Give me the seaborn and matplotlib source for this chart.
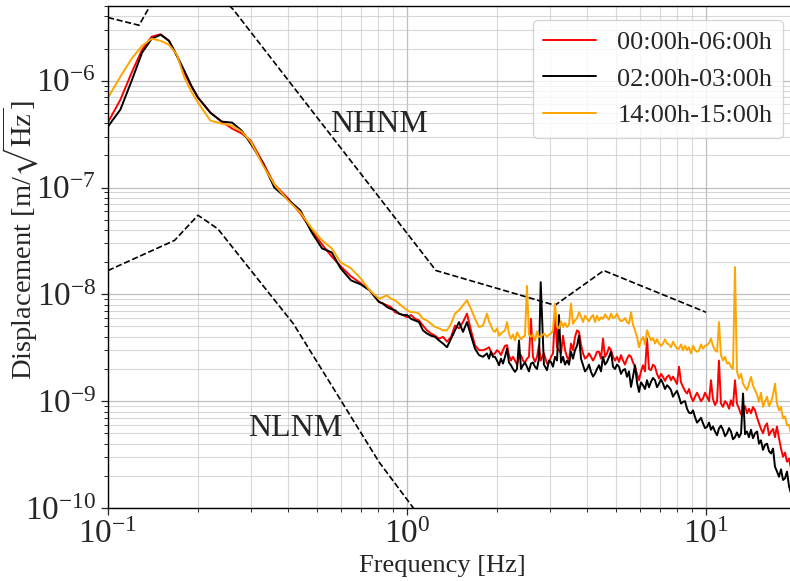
import matplotlib
matplotlib.use("Agg")
import matplotlib.pyplot as plt
from matplotlib.lines import Line2D
import pandas as pd
import seaborn as sns

# Spectral frequencies (Hz), main grid
freq_hz = [
    0.10, 0.11, 0.12, 0.13, 0.14, 0.15, 0.16, 0.17, 0.18, 0.19, 0.20, 0.22,
    0.24, 0.26, 0.28, 0.30, 0.33, 0.36, 0.40, 0.44, 0.48, 0.52, 0.56, 0.60,
    0.65, 0.70, 0.75,
    0.806, 0.831, 0.857, 0.884, 0.912, 0.940, 0.970, 1.000, 1.031, 1.064,
    1.097, 1.131, 1.166, 1.203, 1.241, 1.280, 1.320, 1.361, 1.404, 1.447,
    1.493, 1.539, 1.587, 1.637, 1.688, 1.741, 1.795, 1.851, 1.909, 1.969,
    2.031, 2.094, 2.160, 2.227, 2.297, 2.369, 2.443, 2.519, 2.598, 2.680,
    2.763, 2.800, 2.939, 3.031, 3.126, 3.224, 3.325, 3.429, 3.536, 3.647,
    3.761, 3.879, 4.000, 4.125, 4.254, 4.387, 4.524, 4.666, 4.812, 4.962,
    5.118, 5.278, 5.443, 5.613, 5.789, 5.970, 6.157, 6.349, 6.548, 6.753,
    6.964, 7.182, 7.407, 7.638, 7.877, 8.124, 8.378, 8.640, 8.911, 9.189,
    9.477, 9.772, 10.08, 10.39, 10.72, 11.05, 11.40, 11.76, 12.12, 12.50,
    12.90, 13.30, 13.71, 14.14, 14.59, 15.04, 15.51, 16.00, 16.50, 17.01,
    17.55, 18.10, 18.66, 19.24,
]

# Displacement amplitude spectra (m/sqrt(Hz)) on the main grid
disp_00_06 = [
    4.08e-7, 6.64e-7, 1.19e-6, 1.95e-6, 2.58e-6, 2.72e-6, 2.36e-6, 1.71e-6,
    1.19e-6, 8.79e-7, 6.94e-7, 5.02e-7, 4.14e-7, 3.56e-7, 3.20e-7, 2.75e-7,
    1.71e-7, 1.07e-7, 7.89e-8, 5.71e-8, 3.96e-8, 2.93e-8, 2.26e-8, 1.83e-8,
    1.47e-8, 1.27e-8, 1.09e-8,
    8.5e-9, 8.2e-9, 7.9e-9, 7.6e-9, 6.8e-9, 6.6e-9, 6.4e-9, 6.1e-9, 6.4e-9,
    5.9e-9, 5.7e-9, 5.1e-9, 4.6e-9, 4.3e-9, 4.1e-9, 3.85e-9, 4.0e-9, 3.6e-9,
    4.0e-9, 5.1e-9, 4.8e-9, 5.5e-9, 6.6e-9, 4.6e-9, 3.34e-9, 3.0e-9, 3.0e-9,
    3.1e-9, 2.9e-9, 2.8e-9, 2.9e-9, 3.0e-9, 3.34e-9, 2.4e-9, 2.4e-9, 2.6e-9,
    2.4e-9, 2.5e-9, 5.9e-9, 2.33e-9, 3.34e-9, 2.4e-9, 2.25e-9, 2.6e-9,
    6.6e-9, 3.0e-9, 4.1e-9, 2.6e-9, 3.46e-9, 4.0e-9, 4.45e-9, 2.8e-9, 2.6e-9,
    2.6e-9, 2.6e-9, 2.9e-9, 3.85e-9, 2.8e-9, 3.0e-9, 2.4e-9, 2.33e-9, 2.4e-9,
    2.5e-9, 2.6e-9, 2.1e-9, 1.57e-9, 2.17e-9, 3.85e-9, 1.95e-9, 2.1e-9,
    1.63e-9, 1.69e-9, 1.69e-9, 1.57e-9, 1.57e-9, 2.1e-9, 1.36e-9, 1.18e-9,
    1.10e-9, 1.10e-9, 1.10e-9, 1.06e-9, 1.10e-9, 1.57e-9, 9.2e-10, 2.4e-9,
    8.85e-10, 9.5e-10, 1.02e-9, 1.57e-9, 8.5e-10, 8.2e-10, 7.7e-10, 7.7e-10,
    8.2e-10, 6.2e-10, 5.0e-10, 6.2e-10, 5.2e-10, 4.6e-10, 4.48e-10, 3.02e-10,
    2.71e-10, 2.35e-10,
]

disp_02_03 = [
    3.72e-7, 5.36e-7, 1.0e-6, 1.83e-6, 2.47e-6, 2.69e-6, 2.36e-6, 1.71e-6,
    1.24e-6, 8.98e-7, 6.94e-7, 5.02e-7, 4.14e-7, 4.05e-7, 3.41e-7, 2.58e-7,
    1.68e-7, 1.0e-7, 7.72e-8, 6.1e-8, 3.80e-8, 2.69e-8, 2.47e-8, 1.75e-8,
    1.35e-8, 1.24e-8, 1.09e-8,
    8.5e-9, 8.2e-9, 7.6e-9, 7.3e-9, 7.1e-9, 6.6e-9, 6.4e-9, 6.4e-9, 5.9e-9,
    5.7e-9, 5.5e-9, 4.6e-9, 4.3e-9, 4.1e-9, 4.0e-9, 3.7e-9, 3.46e-9, 3.2e-9,
    3.85e-9, 4.6e-9, 5.5e-9, 4.45e-9, 5.5e-9, 4.1e-9, 3.1e-9, 2.7e-9, 2.6e-9,
    2.8e-9, 2.9e-9, 2.6e-9, 2.17e-9, 2.25e-9, 3.1e-9, 2.17e-9, 1.88e-9,
    3.7e-9, 2.17e-9, 2.1e-9, 2.25e-9, 2.1e-9, 2.5e-9, 1.3e-8, 1.95e-9,
    2.33e-9, 2.6e-9, 6.4e-9, 2.6e-9, 2.4e-9, 2.9e-9, 3.0e-9, 4.1e-9, 2.17e-9,
    2.0e-9, 1.88e-9, 1.81e-9, 2.17e-9, 2.6e-9, 2.33e-9, 2.9e-9, 2.0e-9,
    2.1e-9, 1.95e-9, 1.69e-9, 1.36e-9, 2.17e-9, 1.22e-9, 1.41e-9, 1.57e-9,
    1.52e-9, 1.57e-9, 1.46e-9, 1.46e-9, 1.41e-9, 1.27e-9, 1.18e-9, 1.10e-9,
    9.86e-10, 8.5e-10, 7.7e-10, 7.1e-10, 6.6e-10, 6.2e-10, 5.75e-10, 5.4e-10,
    5.2e-10, 5.55e-10, 5.4e-10, 5.0e-10, 5.2e-10, 4.6e-10, 4.6e-10, 1.18e-9,
    5.2e-10, 5.4e-10, 5.0e-10, 4.0e-10, 3.5e-10, 4.0e-10, 3.24e-10, 2.43e-10,
    1.96e-10, 1.83e-10, 2.19e-10, 1.37e-10,
]

disp_14_15 = [
    6.94e-7, 1.09e-6, 1.61e-6, 2.12e-6, 2.47e-6, 2.36e-6, 2.17e-6, 1.75e-6,
    1.07e-6, 7.89e-7, 6.23e-7, 4.23e-7, 3.96e-7, 3.80e-7, 3.34e-7, 2.69e-7,
    1.61e-7, 1.07e-7, 7.56e-8, 5.84e-8, 4.14e-8, 3.20e-8, 2.69e-8, 1.99e-8,
    1.75e-8, 1.41e-8, 1.09e-8,
    9.1e-9, 9.4e-9, 9.8e-9, 9.1e-9, 8.8e-9, 8.2e-9, 7.6e-9, 7.1e-9, 6.8e-9,
    6.8e-9, 6.6e-9, 5.9e-9, 5.7e-9, 5.3e-9, 4.95e-9, 4.8e-9, 4.6e-9, 4.6e-9,
    5.3e-9, 6.6e-9, 7.1e-9, 7.9e-9, 8.8e-9, 7.3e-9, 5.9e-9, 4.95e-9, 5.1e-9,
    6.6e-9, 5.1e-9, 4.45e-9, 4.1e-9, 4.45e-9, 5.5e-9, 3.85e-9, 3.7e-9, 4.1e-9,
    4.0e-9, 1.2e-8, 4.0e-9, 3.7e-9, 4.0e-9, 4.0e-9, 4.0e-9, 4.3e-9, 8.2e-9,
    4.8e-9, 4.95e-9, 4.95e-9, 8.2e-9, 5.7e-9, 6.8e-9, 5.5e-9, 5.9e-9, 6.1e-9,
    5.5e-9, 5.7e-9, 5.9e-9, 6.1e-9, 6.6e-9, 6.1e-9, 5.9e-9, 5.7e-9, 5.5e-9,
    6.8e-9, 4.6e-9, 3.2e-9, 4.0e-9, 4.6e-9, 3.7e-9, 3.46e-9, 3.46e-9,
    3.46e-9, 3.46e-9, 3.2e-9, 3.34e-9, 3.1e-9, 3.0e-9, 3.0e-9, 2.8e-9, 3.0e-9,
    3.0e-9, 3.1e-9, 3.34e-9, 3.85e-9, 3.0e-9, 5.5e-9, 2.4e-9, 2.25e-9, 2.1e-9,
    1.8e-8, 1.63e-9, 1.46e-9, 1.27e-9, 1.69e-9, 1.27e-9, 9.86e-10, 8.85e-10,
    1.10e-9, 9.86e-10, 1.46e-9, 8.2e-10, 6.9e-10, 5.97e-10, 5.0e-10,
]

# Extra in-between frequencies (Hz) for the noisy part of the band
freq_hz_fine = [
    1.880, 1.939, 2.000, 2.062, 2.127, 2.193, 2.262, 2.333, 2.406, 2.481,
    2.558, 2.638, 2.722,
    2.870, 2.985, 3.078, 3.175, 3.274, 3.377, 3.482, 3.591, 3.704, 3.819,
    3.939, 4.062, 4.189, 4.320, 4.455, 4.594, 4.738, 4.887, 5.039, 5.197,
    5.360, 5.527, 5.700, 5.879, 6.063, 6.252, 6.447, 6.650, 6.858, 7.072,
    7.293, 7.522, 7.756, 7.999, 8.250, 8.508, 8.774, 9.049, 9.332, 9.624,
    9.924, 10.24, 10.55, 10.89, 11.22, 11.58, 11.94, 12.31, 12.69, 13.10,
    13.51, 13.92, 14.36, 14.82, 15.27, 15.75, 16.25, 16.76, 17.27, 17.82,
    18.38, 18.95,
]

disp_00_06_fine = [
    3.2e-9, 2.7e-9, 3.0e-9, 2.7e-9, 3.3e-9, 2.7e-9, 2.6e-9, 2.2e-9, 2.7e-9, 2.3e-9,
    2.6e-9, 2.6e-9, 2.6e-9,
    2.8e-9, 2.3e-9, 2.8e-9, 3.2e-9, 2.8e-9, 3.0e-9, 2.4e-9, 3.0e-9, 4.6e-9, 3.4e-9,
    2.5e-9, 2.8e-9, 2.4e-9, 2.9e-9, 2.5e-9, 2.6e-9, 3.2e-9, 2.6e-9, 2.6e-9, 2.7e-9,
    2.2e-9, 2.7e-9, 2.3e-9, 1.8e-9, 1.9e-9, 1.9e-9, 2.0e-9, 2.2e-9, 1.8e-9, 1.8e-9,
    1.55e-9, 1.75e-9, 1.7e-9, 1.45e-9, 1.5e-9, 1.25e-9, 1.3e-9, 1.0e-9, 1.2e-9, 1.0e-9,
    1.2e-9, 1.0e-9, 1.05e-9, 1.0e-9, 9.5e-10, 1.0e-9, 8.5e-10, 9.0e-10, 9.5e-10, 7.5e-10,
    9.0e-10, 8.5e-10, 8.8e-10, 7.0e-10, 5.5e-10, 5.8e-10, 4.8e-10, 5.5e-10, 5.8e-10, 3.6e-10,
    3.3e-10, 2.9e-10,
]

disp_02_03_fine = [
    2.5e-9, 2.6e-9, 2.4e-9, 2.5e-9, 2.6e-9, 2.3e-9, 2.0e-9, 2.0e-9, 2.0e-9, 2.3e-9,
    1.9e-9, 2.3e-9, 2.0e-9,
    2.2e-9, 2.4e-9, 2.1e-9, 2.4e-9, 2.3e-9, 2.2e-9, 2.2e-9, 2.5e-9, 3.3e-9, 2.5e-9,
    1.9e-9, 2.2e-9, 1.7e-9, 2.0e-9, 1.9e-9, 2.2e-9, 2.6e-9, 2.1e-9, 2.2e-9, 1.8e-9,
    2.0e-9, 1.9e-9, 1.7e-9, 1.5e-9, 1.5e-9, 1.3e-9, 1.35e-9, 1.65e-9, 1.35e-9, 1.6e-9,
    1.3e-9, 1.35e-9, 1.1e-9, 1.25e-9, 9.5e-10, 1.0e-9, 7.8e-10, 8.2e-10, 6.3e-10, 7.0e-10,
    5.6e-10, 6.3e-10, 5.8e-10, 4.8e-10, 5.9e-10, 4.7e-10, 5.6e-10, 4.4e-10, 5.1e-10, 5.0e-10,
    4.9e-10, 4.6e-10, 4.5e-10, 5.2e-10, 4.3e-10, 3.9e-10, 3.4e-10, 3.6e-10, 2.2e-10, 2.3e-10,
    1.9e-10, 1.6e-10,
]

disp_14_15_fine = [
    5.6e-9, 4.6e-9, 4.8e-9, 4.3e-9, 4.6e-9, 4.3e-9, 4.2e-9, 4.4e-9, 3.8e-9, 4.1e-9,
    4.2e-9, 4.2e-9, 4.5e-9,
    4.3e-9, 4.2e-9, 4.6e-9, 5.0e-9, 5.6e-9, 5.4e-9, 5.2e-9, 5.3e-9, 6.0e-9, 6.2e-9,
    6.3e-9, 5.6e-9, 6.4e-9, 6.3e-9, 6.1e-9, 6.5e-9, 5.8e-9, 6.0e-9, 6.6e-9, 5.6e-9,
    6.0e-9, 5.3e-9, 5.2e-9, 4.0e-9, 3.7e-9, 3.4e-9, 4.1e-9, 3.9e-9, 3.8e-9, 3.3e-9,
    3.8e-9, 3.4e-9, 3.6e-9, 3.1e-9, 3.4e-9, 3.3e-9, 3.2e-9, 3.3e-9, 2.9e-9, 3.4e-9,
    3.3e-9, 3.5e-9, 3.3e-9, 2.9e-9, 2.7e-9, 2.6e-9, 2.3e-9, 2.0e-9, 1.9e-9, 1.8e-9,
    1.35e-9, 1.45e-9, 1.4e-9, 1.15e-9, 1.2e-9, 1.0e-9, 9.0e-10, 1.15e-9, 9.5e-10, 8.8e-10,
    7.2e-10, 6.0e-10,
]

series_labels = ["00:00h-06:00h", "02:00h-03:00h", "14:00h-15:00h"]
series_colors = ["red", "black", "orange"]

# Peterson high / low noise models (displacement)
nhnm_freq = [0.10, 0.127, 0.159, 0.217, 0.263, 1.25, 3.125, 4.55, 10.0]
nhnm_disp = [3.9e-6, 3.3e-6, 1.0e-5, 8.0e-6, 4.6e-6, 1.67e-8, 7.9e-9, 1.67e-8, 6.8e-9]
nlnm_freq = [0.10, 0.167, 0.20, 0.233, 0.417, 0.806, 1.25]
nlnm_disp = [1.67e-8, 3.2e-8, 5.5e-8, 4.1e-8, 5.3e-9, 2.7e-10, 5.2e-11]

# Decade ticks
x_ticks = [0.1, 1.0, 10.0]
y_ticks = [1e-10, 1e-9, 1e-8, 1e-7, 1e-6]

frames = []
for lab, coarse, fine in zip(series_labels,
                             [disp_00_06, disp_02_03, disp_14_15],
                             [disp_00_06_fine, disp_02_03_fine, disp_14_15_fine]):
    frames.append(pd.DataFrame({"freq": freq_hz, "disp": coarse, "period": lab}))
    frames.append(pd.DataFrame({"freq": freq_hz_fine, "disp": fine, "period": lab}))
spectra = (pd.concat(frames, ignore_index=True)
           .sort_values(["period", "freq"], kind="stable")
           .reset_index(drop=True))
models = pd.concat([
    pd.DataFrame({"freq": nhnm_freq, "disp": nhnm_disp, "model": "NHNM"}),
    pd.DataFrame({"freq": nlnm_freq, "disp": nlnm_disp, "model": "NLNM"}),
], ignore_index=True)

sns.set_style("ticks")
plt.rcParams["font.family"] = ["Liberation Serif", "DejaVu Serif"]
plt.rcParams["mathtext.fontset"] = "stix"
plt.rcParams["xtick.direction"] = "out"
plt.rcParams["ytick.direction"] = "out"

fig = plt.figure(figsize=(7.9, 5.81), dpi=100)
W, H = 790, 581
ax = fig.add_axes([108 / W, 1 - 508 / H, (796 - 108) / W, (508 - 6) / H])

sns.lineplot(data=models, x="freq", y="disp", units="model", estimator=None,
             sort=False, color="black", linestyle="--", linewidth=1.2, ax=ax)
sns.lineplot(data=spectra, x="freq", y="disp", hue="period",
             hue_order=series_labels,
             palette=dict(zip(series_labels, series_colors)),
             estimator=None, sort=False, linewidth=1.4, ax=ax, legend=False)

ax.set_xscale("log")
ax.set_yscale("log")
ax.set_xticks(x_ticks)
ax.set_yticks(y_ticks)
ax.set_xlim(0.1, 20)
ax.set_ylim(1e-10, 5e-6)

ax.grid(True, which="major", color="#b0b0b0", linewidth=0.9, alpha=0.8)
ax.grid(True, which="minor", color="#c8c8c8", linewidth=0.8, alpha=0.7)
ax.set_axisbelow(True)

ax.tick_params(axis="both", which="major", labelsize=24, length=5, width=0.9)
ax.tick_params(axis="both", which="minor", length=3, width=0.7)

ax.set_xlabel("Frequency [Hz]", fontsize=19)
ax.set_ylabel(r"Displacement [m/$\sqrt{\mathrm{Hz}}$]", fontsize=20.5)
ax.xaxis.set_label_coords(0.486, -0.094)
ax.yaxis.set_label_coords(-0.098, 0.534)

ax.text(0.553, 3.33e-7, "NHNM", fontsize=23)
ax.text(0.294, 4.7e-10, "NLNM", fontsize=23)

handles = [Line2D([], [], color=c, linewidth=1.4) for c in series_colors]
ax.legend(handles, series_labels, fontsize=19, loc="upper right",
          bbox_to_anchor=(783 / W, 1 - 20 / H), bbox_transform=fig.transFigure,
          borderaxespad=0, handlelength=2.0, frameon=True)

for s in ["left", "bottom", "top", "right"]:
    ax.spines[s].set_color("black")
    ax.spines[s].set_linewidth(1.0)

fig.savefig("out.png", dpi=100)
